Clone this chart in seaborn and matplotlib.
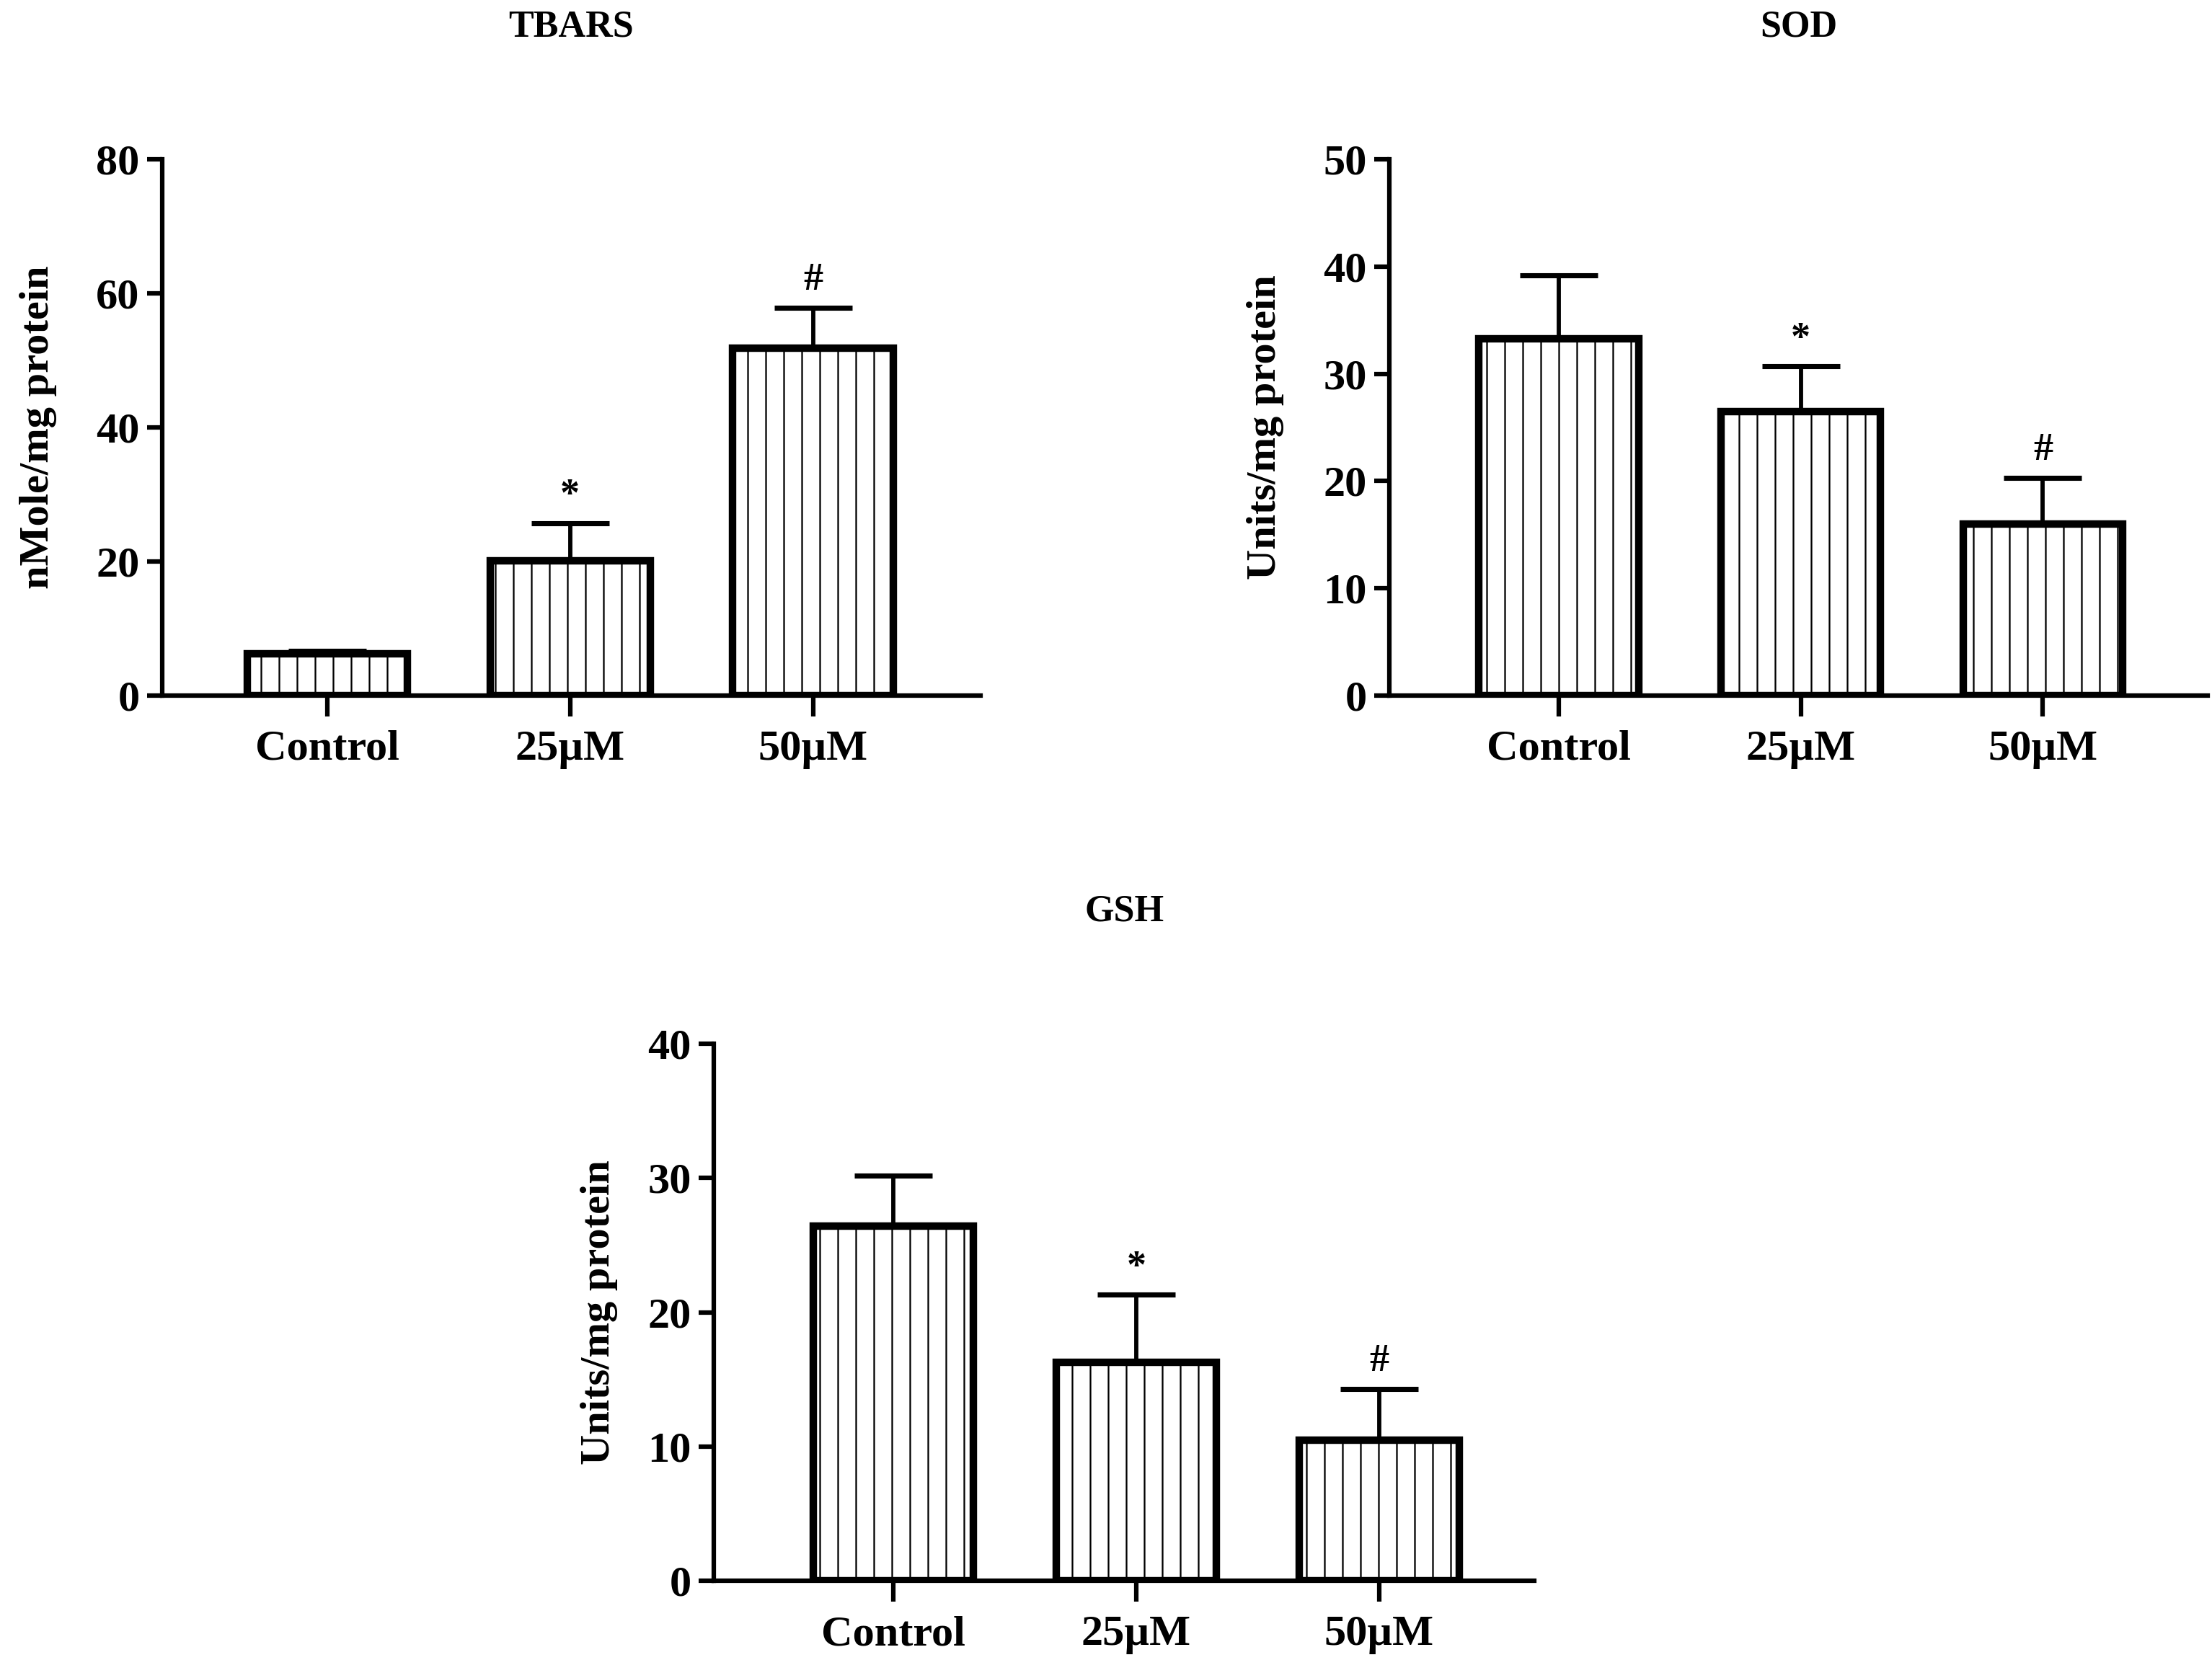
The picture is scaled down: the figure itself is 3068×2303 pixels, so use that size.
import matplotlib
matplotlib.use("Agg")
import matplotlib.pyplot as plt
import seaborn as sns
import numpy as np

groups = ["Control", "25µM", "50µM"]

tbars_mean = [6.2, 20.1, 51.8]
tbars_err = [0.5, 5.6, 6.1]
tbars_marks = ["", "*", "#"]

sod_mean = [33.3, 26.5, 16.0]
sod_err = [5.9, 4.2, 4.3]
sod_marks = ["", "*", "#"]

gsh_mean = [26.4, 16.3, 10.5]
gsh_err = [3.8, 5.0, 3.8]
gsh_marks = ["", "*", "#"]

sns.set_style("ticks")
plt.rcParams['font.family'] = ['Liberation Serif', 'DejaVu Serif']
plt.rcParams['font.weight'] = 'bold'
plt.rcParams['hatch.linewidth'] = 1.1
plt.rcParams['hatch.color'] = 'black'
for k in ['text.color', 'axes.labelcolor', 'xtick.color', 'ytick.color', 'axes.edgecolor']:
    plt.rcParams[k] = 'black'

DPI = 150
fig = plt.figure(figsize=(3068 / DPI, 2303 / DPI), dpi=DPI)


def draw_panel(rect, title, ylabel, means, errs, marks, ymax, ystep, xlim, lpad):
    ax = fig.add_axes(rect)
    sns.barplot(x=groups, y=means, ax=ax, color='white', edgecolor='black',
                linewidth=5.0, width=0.66, errorbar=None, saturation=1)
    for p in ax.patches:
        p.set_hatch('|')
        p.set_edgecolor('black')
    xs = np.arange(len(groups))
    ax.errorbar(xs, means, yerr=[np.zeros(len(errs)), errs], fmt='none',
                ecolor='black', elinewidth=2.8, capsize=26, capthick=3.4, zorder=1)
    for x, m, e, s in zip(xs, means, errs, marks):
        if s:
            ax.annotate(s, (x, m + e), xytext=(0, 6), textcoords='offset points',
                        ha='center', va='bottom', fontsize=26, fontweight='bold')
    ax.set_ylim(0, ymax)
    ax.set_yticks(np.arange(0, ymax + 1, ystep))
    ax.set_xlim(*xlim)
    ax.set_title(title, fontsize=25, fontweight='bold', pad=82)
    ax.set_ylabel(ylabel, fontsize=28, fontweight='bold', labelpad=lpad)
    ax.set_xlabel('')
    sns.despine(ax=ax)
    for sp in ['left', 'bottom']:
        ax.spines[sp].set_linewidth(3.0)
    ax.tick_params(axis='x', length=14, width=3.0, pad=9, labelsize=29)
    ax.tick_params(axis='y', length=10, width=3.0, pad=5, labelsize=29)
    for lab in ax.get_xticklabels() + ax.get_yticklabels():
        lab.set_fontweight('bold')
    return ax


draw_panel([0.0733, 0.581, 0.370, 0.323], "TBARS", "nMole/mg protein",
           tbars_mean, tbars_err, tbars_marks, 80, 20, (-0.68, 2.69), 26)
draw_panel([0.628, 0.581, 0.370, 0.323], "SOD", "Units/mg protein",
           sod_mean, sod_err, sod_marks, 50, 10, (-0.70, 2.68), 26)
draw_panel([0.3227, 0.0476, 0.371, 0.3237], "GSH", "Units/mg protein",
           gsh_mean, gsh_err, gsh_marks, 40, 10, (-0.74, 2.64), 20)

fig.savefig("out.png", dpi=DPI, facecolor='white')
